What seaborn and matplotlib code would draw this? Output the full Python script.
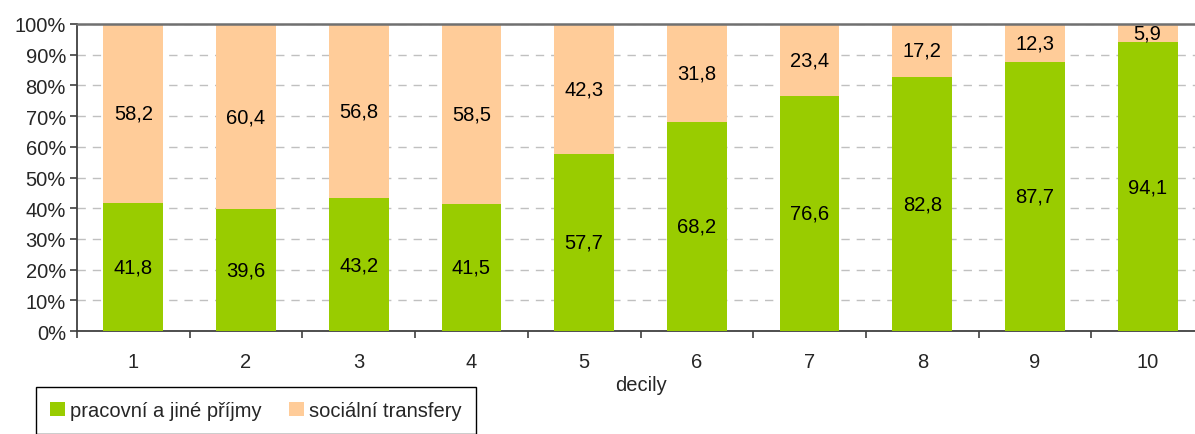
import matplotlib
matplotlib.use("Agg")
import matplotlib.pyplot as plt
import seaborn as sns
import pandas as pd
import numpy as np
from matplotlib.patches import Patch
from matplotlib.ticker import FixedLocator, NullFormatter

deciles = ["1", "2", "3", "4", "5", "6", "7", "8", "9", "10"]
work_income = [41.8, 39.6, 43.2, 41.5, 57.7, 68.2, 76.6, 82.8, 87.7, 94.1]
social_transfers = [58.2, 60.4, 56.8, 58.5, 42.3, 31.8, 23.4, 17.2, 12.3, 5.9]
series_names = ["pracovní a jiné příjmy", "sociální transfery"]
y_ticks = [0, 10, 20, 30, 40, 50, 60, 70, 80, 90, 100]

GREEN = "#99CC00"
PEACH = "#FFCC99"

sns.set_theme(style="white")
plt.rcParams["font.family"] = ["Liberation Sans", "DejaVu Sans"]
FS = 14.5

df = pd.DataFrame({"decil": deciles, "work": work_income, "social": social_transfers})
df["total"] = df["work"] + df["social"]

fig = plt.figure(figsize=(11.95, 4.35), dpi=100)
ax = fig.add_axes([77 / 1195, 1 - 332 / 435, (1204 - 77) / 1195, (332 - 25) / 435])

sns.barplot(data=df, x="decil", y="total", color=PEACH, width=0.53, ax=ax,
            saturation=1, linewidth=0, zorder=2)
sns.barplot(data=df, x="decil", y="work", color=GREEN, width=0.53, ax=ax,
            saturation=1, linewidth=0, zorder=3)

cont_social = ax.containers[0]
cont_work = ax.containers[1]
ax.bar_label(cont_work, labels=[f"{v:.1f}".replace(".", ",") for v in work_income],
             label_type="center", fontsize=FS, color="black", zorder=5)
for rect_w, rect_s, s in zip(cont_work, cont_social, social_transfers):
    xc = rect_s.get_x() + rect_s.get_width() / 2
    yc = (rect_w.get_height() + rect_s.get_height()) / 2
    ax.text(xc, yc, f"{s:.1f}".replace(".", ","), ha="center", va="center",
            fontsize=FS, color="black", zorder=5)

ax.set_ylim(0, 100)
ax.set_xlim(-0.5, 9.5)
ax.set_yticks(y_ticks)
ax.set_yticklabels([f"{t}%" for t in y_ticks], fontsize=FS)
ax.yaxis.grid(True, linestyle=(0, (6, 5)), color="#C0C0C0", linewidth=1.0, zorder=0)
ax.set_axisbelow(True)

ax.xaxis.set_major_locator(FixedLocator(np.arange(-0.5, 10, 1.0)))
ax.xaxis.set_major_formatter(NullFormatter())
ax.xaxis.set_minor_locator(FixedLocator(np.arange(0, 10, 1.0)))
ax.set_xticklabels(deciles, minor=True, fontsize=FS)
ax.tick_params(axis="x", which="major", direction="out", length=5, width=1.2,
               color="#404040", bottom=True)
ax.tick_params(axis="x", which="minor", length=0, pad=15, bottom=True)
ax.tick_params(axis="y", which="major", direction="out", length=5, width=1.2,
               color="#404040", left=True, pad=3)
ax.set_xlabel("decily", fontsize=FS, labelpad=3)
ax.set_ylabel("")

for side in ["left", "bottom"]:
    ax.spines[side].set_color("#404040")
    ax.spines[side].set_linewidth(1.3)
ax.spines["top"].set_color("#707070")
ax.spines["top"].set_linewidth(1.8)
ax.spines["right"].set_visible(False)

handles = [Patch(facecolor=GREEN, edgecolor="none"), Patch(facecolor=PEACH, edgecolor="none")]
leg = fig.legend(handles, series_names, loc="upper left",
                 bbox_to_anchor=(36 / 1195, 1 - 388 / 435), ncol=2, fontsize=FS,
                 frameon=True, fancybox=False, edgecolor="black", framealpha=1,
                 handlelength=0.75, handleheight=0.75, handletextpad=0.25,
                 columnspacing=1.35, borderpad=0.7, borderaxespad=0)
leg.get_frame().set_linewidth(1.0)

fig.savefig("out.png", dpi=100)
